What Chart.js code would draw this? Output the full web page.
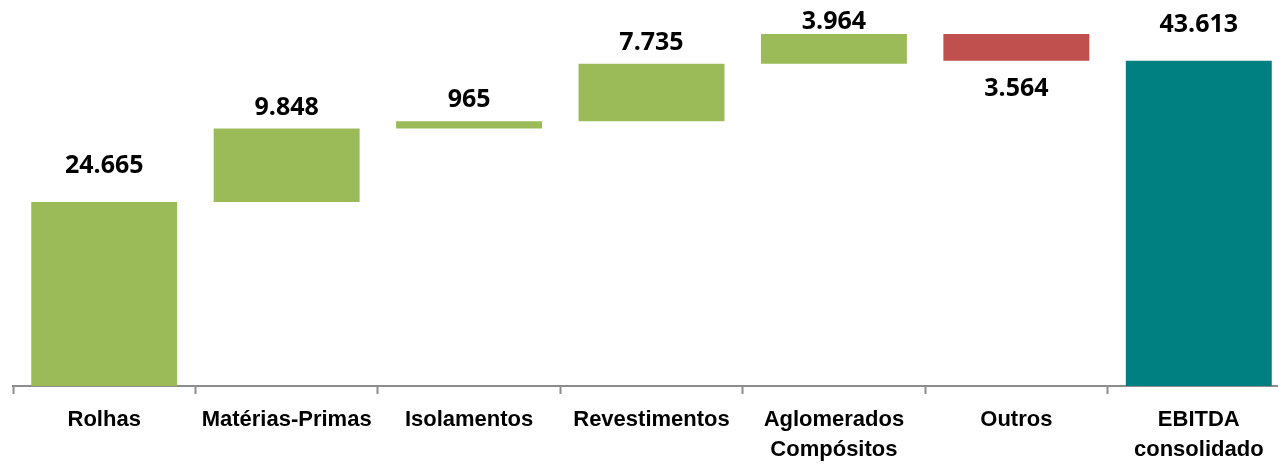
<!DOCTYPE html>
<html>
<head>
<meta charset="utf-8">
<script src="https://cdn.jsdelivr.net/npm/chart.js@4.4.1/dist/chart.umd.min.js"></script>
<style>
    html, body { margin: 0; padding: 0; background: #fff; overflow: hidden; }
    #wrap { position: relative; width: 1290px; height: 464px; }
</style>
</head>
<body>
<div id="wrap"><canvas id="waterfallChart"></canvas></div>
<script>
// Categorias e valores (milhares de euros)
const categories = [
    ['Rolhas'],
    ['Matérias-Primas'],
    ['Isolamentos'],
    ['Revestimentos'],
    ['Aglomerados', 'Compósitos'],
    ['Outros'],
    ['EBITDA', 'consolidado']
];
const values = [24665, 9848, 965, 7735, 3964, -3564, 43613];
const barKinds = ['start', 'delta', 'delta', 'delta', 'delta', 'delta', 'total'];

// Cores
const colors = {
    up: '#9BBB59',
    down: '#C0504D',
    total: '#008080',
    axis: '#8C8C8C',
    text: '#000'
};

// Intervalos [início, fim] para cada barra flutuante
let running = 0;
const ranges = values.map((v, i) => {
    if (barKinds[i] === 'total') {
        running = v;
        return [0, v];
    }
    const start = running;
    running += v;
    return [start, running];
});

const barColors = values.map((v, i) => {
    if (barKinds[i] === 'total') return colors.total;
    return v < 0 ? colors.down : colors.up;
});

const formatValue = (v) => Math.abs(v).toString().replace(/\B(?=(\d{3})+(?!\d))/g, '.');

// Rótulos de valor por cima / por baixo das barras
const valueLabels = {
    id: 'valueLabels',
    afterDatasetsDraw(chart) {
        const ctx = chart.ctx;
        const meta = chart.getDatasetMeta(0);
        const yScale = chart.scales.y;
        ctx.save();
        ctx.font = 'bold 25px "Open Sans", sans-serif';
        ctx.fillStyle = colors.text;
        ctx.textAlign = 'center';
        ctx.textBaseline = 'alphabetic';
        meta.data.forEach((bar, i) => {
            const [a, b] = ranges[i];
            const top = yScale.getPixelForValue(Math.max(a, b));
            const bottom = yScale.getPixelForValue(Math.min(a, b));
            let y;
            if (values[i] < 0) {
                y = bottom + 35;
            } else if (barKinds[i] === 'delta') {
                y = Math.max(top - 14, 29);
            } else {
                y = top - 29;
            }
            ctx.fillText(formatValue(values[i]), bar.x, y);
        });
        ctx.restore();
    }
};

const ctx = document.getElementById('waterfallChart').getContext('2d');
new Chart(ctx, {
    type: 'bar',
    data: {
        labels: categories,
        datasets: [{
            data: ranges,
            backgroundColor: barColors,
            borderWidth: 0,
            barPercentage: 0.8,
            categoryPercentage: 1.0
        }]
    },
    plugins: [valueLabels],
    options: {
        responsive: true,
        maintainAspectRatio: false,
        animation: false,
        layout: { padding: { left: 13, top: 13, right: 0, bottom: 0 } },
        plugins: {
            legend: { display: false },
            tooltip: { enabled: false }
        },
        scales: {
            x: {
                offset: true,
                afterFit: (scale) => { scale.height = 78; },
                grid: {
                    offset: true,
                    drawOnChartArea: false,
                    drawTicks: true,
                    tickLength: 8,
                    tickWidth: 2,
                    tickColor: colors.axis
                },
                border: { color: colors.axis, width: 2 },
                ticks: {
                    color: colors.text,
                    padding: 11,
                    maxRotation: 0,
                    autoSkip: false,
                    font: { family: '"Liberation Sans Narrow", "Arial Narrow", sans-serif', size: 22, weight: 'bold', lineHeight: 1.36 }
                }
            },
            y: {
                display: false,
                min: 0,
                max: 50000
            }
        }
    }
});
</script>
</body>
</html>
